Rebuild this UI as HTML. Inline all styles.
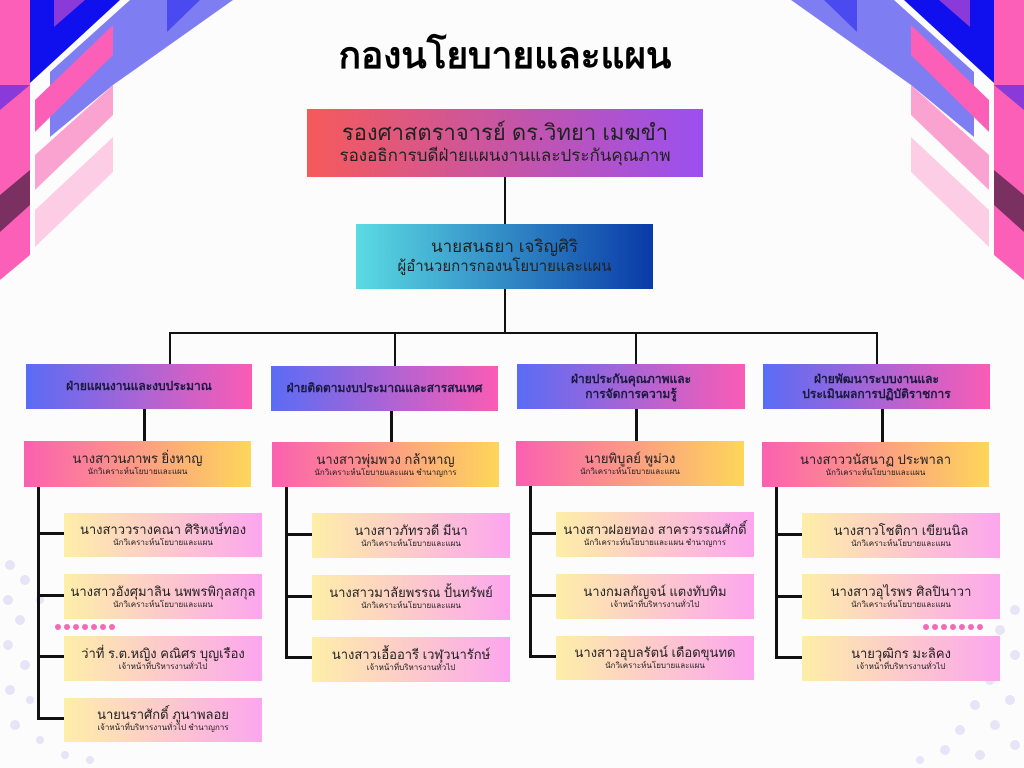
<!DOCTYPE html>
<html><head><meta charset="utf-8"><style>
body{margin:0;width:1024px;height:768px;background:#fcfcfd;position:relative;overflow:hidden;font-family:"Liberation Sans","DejaVu Sans",sans-serif;color:#222}
.b{position:absolute;display:flex;flex-direction:column;align-items:center;justify-content:center;text-align:center;line-height:1.2}
.top{background:linear-gradient(90deg,#f55a5a,#9a50f0)}
.dir{background:linear-gradient(90deg,#5adbe3,#0a3aa8)}
.dep{background:linear-gradient(90deg,#5a6cf5,#fa5cb5);font-weight:bold;font-size:12px;color:#1a1a40}
.head{background:linear-gradient(90deg,#fb60b0,#fdd65a)}
.st{background:linear-gradient(90deg,#fdeea8,#fca6ee)}
.n{font-size:13px}.r{font-size:8px}
.l{position:absolute;background:#111}
</style></head><body>
<svg width="1024" height="768" style="position:absolute;left:0;top:0">
<g id="c">
<polygon points="0,0 30,0 30,255 0,280" fill="#fb5fb8"/>
<polygon points="0,85 30,85 0,110" fill="#8a3ad8"/>
<polygon points="0,195 30,170 30,205 0,232" fill="#7a3060"/>
<polygon points="30,0 120,0 30,83" fill="#1010ee"/>
<polygon points="54,0 85,0 54,27" fill="#8a3ad8"/>
<polygon points="50,72 130,0 233,0 113,85 50,137" fill="#7e7ef2"/>
<polygon points="167,0 200,0 167,32" fill="#4a4af0"/>
<polygon points="35,100 113,25 113,55 35,132" fill="#fb5fb8"/>
<polygon points="35,155 113,85 113,115 35,190" fill="#fba3d0"/>
<polygon points="35,210 113,137 113,172 35,247" fill="#fdcde6"/>
</g>
<use href="#c" transform="translate(1024,0) scale(-1,1)"/>
<g fill="#f06ab8">
<circle cx="58" cy="627" r="3"/><circle cx="67" cy="627" r="3"/><circle cx="76" cy="627" r="3"/><circle cx="85" cy="627" r="3"/><circle cx="94" cy="627" r="3"/><circle cx="103" cy="627" r="3"/><circle cx="112" cy="627" r="3"/>
<circle cx="926" cy="627" r="3"/><circle cx="935" cy="627" r="3"/><circle cx="944" cy="627" r="3"/><circle cx="953" cy="627" r="3"/><circle cx="962" cy="627" r="3"/><circle cx="971" cy="627" r="3"/><circle cx="980" cy="627" r="3"/>
</g>
<g fill="#e6e4f6">
<circle cx="10" cy="565" r="5"/><circle cx="25" cy="580" r="5"/><circle cx="8" cy="600" r="5"/><circle cx="40" cy="600" r="4"/><circle cx="20" cy="620" r="5"/><circle cx="8" cy="645" r="5"/><circle cx="25" cy="665" r="5"/><circle cx="10" cy="690" r="5"/><circle cx="30" cy="700" r="4"/><circle cx="15" cy="725" r="5"/><circle cx="40" cy="740" r="4"/><circle cx="65" cy="755" r="4"/><circle cx="90" cy="760" r="4"/>
<circle cx="1015" cy="610" r="5"/><circle cx="1000" cy="630" r="5"/><circle cx="1015" cy="655" r="5"/><circle cx="990" cy="680" r="5"/><circle cx="1010" cy="700" r="5"/><circle cx="975" cy="705" r="5"/><circle cx="995" cy="725" r="5"/><circle cx="960" cy="730" r="5"/><circle cx="1015" cy="745" r="5"/><circle cx="945" cy="750" r="5"/><circle cx="980" cy="755" r="5"/><circle cx="920" cy="760" r="4"/>
</g>
</svg>
<div class="b" style="left:255px;top:28px;width:500px;height:56px;font-size:37px;font-weight:bold;color:#000">กองนโยบายและแผน</div>

<div class="l" style="left:504px;top:177px;width:2px;height:47px"></div>
<div class="l" style="left:504px;top:289px;width:2px;height:44px"></div>
<div class="l" style="left:169px;top:332px;width:709px;height:2px"></div>
<div class="l" style="left:169px;top:332px;width:2px;height:32px"></div>
<div class="l" style="left:394px;top:332px;width:2px;height:34px"></div>
<div class="l" style="left:635px;top:332px;width:2px;height:32px"></div>
<div class="l" style="left:876px;top:332px;width:2px;height:32px"></div>
<div class="l" style="left:143px;top:409px;width:3px;height:32px"></div>
<div class="l" style="left:390px;top:411px;width:3px;height:31px"></div>
<div class="l" style="left:635px;top:409px;width:3px;height:32px"></div>
<div class="l" style="left:881px;top:409px;width:3px;height:33px"></div>

<div class="b top" style="left:307px;top:109px;width:396px;height:68px"><div style="font-size:22px">รองศาสตราจารย์ ดร.วิทยา เมฆขำ</div><div style="font-size:17px">รองอธิการบดีฝ่ายแผนงานและประกันคุณภาพ</div></div>
<div class="b dir" style="left:356px;top:224px;width:297px;height:65px"><div style="font-size:17px">นายสนธยา เจริญศิริ</div><div style="font-size:15px">ผู้อำนวยการกองนโยบายและแผน</div></div>

<div class="b dep" style="left:26px;top:364px;width:226px;height:45px">ฝ่ายแผนงานและงบประมาณ</div>
<div class="b dep" style="left:271px;top:366px;width:227px;height:45px">ฝ่ายติดตามงบประมาณและสารสนเทศ</div>
<div class="b dep" style="left:517px;top:364px;width:228px;height:45px">ฝ่ายประกันคุณภาพและ<br>การจัดการความรู้</div>
<div class="b dep" style="left:763px;top:364px;width:227px;height:45px">ฝ่ายพัฒนาระบบงานและ<br>ประเมินผลการปฏิบัติราชการ</div>

<div class="b head" style="left:24px;top:441px;width:227px;height:46px"><div class="n">นางสาวนภาพร ยิ่งหาญ</div><div class="r">นักวิเคราะห์นโยบายและแผน</div></div>
<div class="b head" style="left:272px;top:442px;width:227px;height:45px"><div class="n">นางสาวพุ่มพวง กล้าหาญ</div><div class="r">นักวิเคราะห์นโยบายและแผน ชำนาญการ</div></div>
<div class="b head" style="left:516px;top:441px;width:228px;height:45px"><div class="n">นายพิบูลย์ พูม่วง</div><div class="r">นักวิเคราะห์นโยบายและแผน</div></div>
<div class="b head" style="left:762px;top:442px;width:227px;height:45px"><div class="n">นางสาววนัสนาฏ ประพาลา</div><div class="r">นักวิเคราะห์นโยบายและแผน</div></div>

<div class="l" style="left:37px;top:487px;width:3px;height:233px"></div>
<div class="l" style="left:37px;top:532px;width:27px;height:3px"></div>
<div class="l" style="left:37px;top:594px;width:27px;height:3px"></div>
<div class="l" style="left:37px;top:655px;width:27px;height:3px"></div>
<div class="l" style="left:37px;top:717px;width:27px;height:3px"></div>
<div class="l" style="left:285px;top:487px;width:3px;height:172px"></div>
<div class="l" style="left:285px;top:533px;width:27px;height:3px"></div>
<div class="l" style="left:285px;top:595px;width:27px;height:3px"></div>
<div class="l" style="left:285px;top:656px;width:27px;height:3px"></div>
<div class="l" style="left:529px;top:486px;width:3px;height:172px"></div>
<div class="l" style="left:529px;top:532px;width:27px;height:3px"></div>
<div class="l" style="left:529px;top:594px;width:27px;height:3px"></div>
<div class="l" style="left:529px;top:655px;width:27px;height:3px"></div>
<div class="l" style="left:775px;top:487px;width:3px;height:172px"></div>
<div class="l" style="left:775px;top:533px;width:27px;height:3px"></div>
<div class="l" style="left:775px;top:595px;width:27px;height:3px"></div>
<div class="l" style="left:775px;top:656px;width:27px;height:3px"></div>

<div class="b st" style="left:64px;top:513px;width:198px;height:44px"><div class="n">นางสาววรางคณา ศิริหงษ์ทอง</div><div class="r">นักวิเคราะห์นโยบายและแผน</div></div>
<div class="b st" style="left:64px;top:574px;width:198px;height:45px"><div class="n">นางสาวอังศุมาลิน นพพรพิกุลสกุล</div><div class="r">นักวิเคราะห์นโยบายและแผน</div></div>
<div class="b st" style="left:64px;top:636px;width:198px;height:45px"><div class="n">ว่าที่ ร.ต.หญิง คณิศร บุญเรือง</div><div class="r">เจ้าหน้าที่บริหารงานทั่วไป</div></div>
<div class="b st" style="left:64px;top:698px;width:198px;height:44px"><div class="n">นายนราศักดิ์ ภูนาพลอย</div><div class="r">เจ้าหน้าที่บริหารงานทั่วไป ชำนาญการ</div></div>

<div class="b st" style="left:312px;top:513px;width:198px;height:45px"><div class="n">นางสาวภัทรวดี มีนา</div><div class="r">นักวิเคราะห์นโยบายและแผน</div></div>
<div class="b st" style="left:312px;top:575px;width:198px;height:45px"><div class="n">นางสาวมาลัยพรรณ ปั้นทรัพย์</div><div class="r">นักวิเคราะห์นโยบายและแผน</div></div>
<div class="b st" style="left:312px;top:637px;width:198px;height:45px"><div class="n">นางสาวเอื้ออารี เวฬุวนารักษ์</div><div class="r">เจ้าหน้าที่บริหารงานทั่วไป</div></div>

<div class="b st" style="left:556px;top:512px;width:198px;height:45px"><div class="n">นางสาวฝอยทอง สาครวรรณศักดิ์</div><div class="r">นักวิเคราะห์นโยบายและแผน ชำนาญการ</div></div>
<div class="b st" style="left:556px;top:574px;width:198px;height:45px"><div class="n">นางกมลกัญจน์ แตงทับทิม</div><div class="r">เจ้าหน้าที่บริหารงานทั่วไป</div></div>
<div class="b st" style="left:556px;top:636px;width:198px;height:44px"><div class="n">นางสาวอุบลรัตน์ เดือดขุนทด</div><div class="r">นักวิเคราะห์นโยบายและแผน</div></div>

<div class="b st" style="left:802px;top:513px;width:198px;height:45px"><div class="n">นางสาวโชติกา เขียนนิล</div><div class="r">นักวิเคราะห์นโยบายและแผน</div></div>
<div class="b st" style="left:802px;top:574px;width:198px;height:45px"><div class="n">นางสาวอุไรพร ศิลปินาวา</div><div class="r">นักวิเคราะห์นโยบายและแผน</div></div>
<div class="b st" style="left:802px;top:636px;width:198px;height:45px"><div class="n">นายวุฒิกร มะลิคง</div><div class="r">เจ้าหน้าที่บริหารงานทั่วไป</div></div>
</body></html>
